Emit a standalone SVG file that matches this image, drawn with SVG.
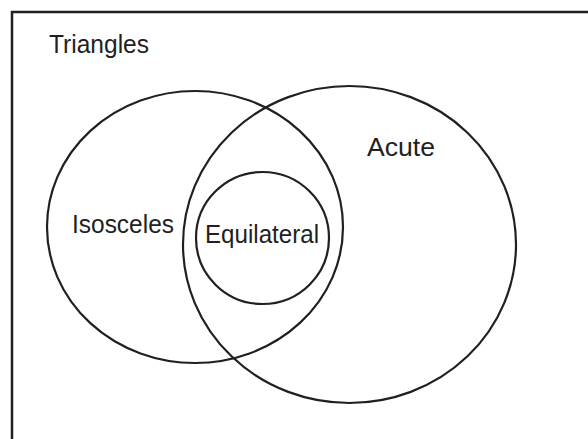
<svg xmlns="http://www.w3.org/2000/svg" width="588" height="439" viewBox="0 0 588 439">
<style>
.frame{fill:none;stroke:#231f20;stroke-width:2.5}
.set{fill:none;stroke:#231f20;stroke-width:2.2}
.lbl{font-family:"Liberation Sans",Arial,sans-serif;font-size:25px;fill:#231f20}
</style>
<rect width="588" height="439" fill="#fff"/>
<g id="triangles">
<rect class="frame" x="12" y="12" width="600" height="450"/>
<text class="lbl" x="49" y="53" textLength="100" lengthAdjust="spacingAndGlyphs">Triangles</text>
</g>
<g id="isosceles">
<ellipse class="set" cx="195" cy="227" rx="148" ry="136"/>
<text class="lbl" x="72" y="233" textLength="102" lengthAdjust="spacingAndGlyphs">Isosceles</text>
</g>
<g id="acute">
<ellipse class="set" cx="349.5" cy="244.5" rx="166.5" ry="158.5"/>
<text class="lbl" x="367" y="156" textLength="68" lengthAdjust="spacingAndGlyphs">Acute</text>
</g>
<g id="equilateral">
<ellipse class="set" cx="262.5" cy="238" rx="66.5" ry="66"/>
<text class="lbl" x="205" y="243" textLength="114" lengthAdjust="spacingAndGlyphs">Equilateral</text>
</g>
<g id="connectors"></g>
</svg>
